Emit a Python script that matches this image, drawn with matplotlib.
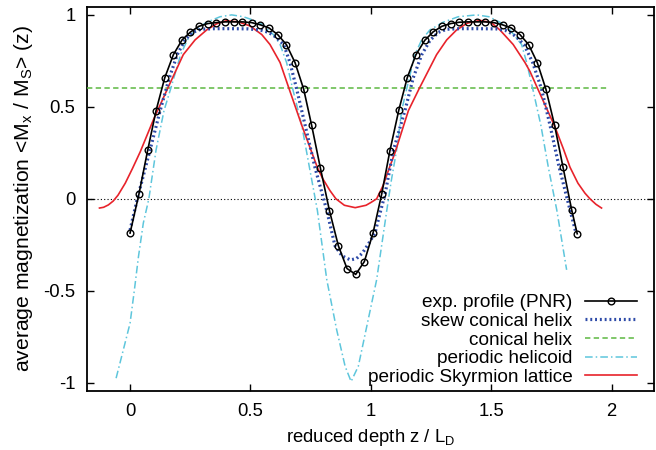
"""Depth profile of the average magnetization compared with model textures."""

import matplotlib

matplotlib.use("Agg")
import matplotlib.pyplot as plt

plt.rcParams["font.family"] = ["Liberation Sans", "DejaVu Sans"]
plt.rcParams["axes.unicode_minus"] = False

# experimental profile (PNR)
exp_z = [0.000, 0.037, 0.073, 0.108, 0.144, 0.180, 0.216, 0.250, 0.286, 0.323,
         0.358, 0.394, 0.430, 0.466, 0.505, 0.541, 0.577, 0.613, 0.649, 0.685,
         0.721, 0.754, 0.790, 0.828, 0.865, 0.901, 0.937, 0.973, 1.009, 1.045,
         1.079, 1.116, 1.151, 1.187, 1.224, 1.259, 1.295, 1.332, 1.367, 1.403,
         1.440, 1.476, 1.511, 1.547, 1.583, 1.619, 1.655, 1.691, 1.727, 1.763,
         1.798, 1.834, 1.857]
exp_m = [-0.186, 0.027, 0.263, 0.480, 0.658, 0.784, 0.864, 0.906, 0.938, 0.953,
         0.958, 0.962, 0.962, 0.962, 0.958, 0.946, 0.929, 0.893, 0.839, 0.741,
         0.596, 0.400, 0.170, -0.064, -0.255, -0.379, -0.411, -0.341, -0.186, 0.026,
         0.261, 0.482, 0.658, 0.783, 0.862, 0.908, 0.938, 0.953, 0.960, 0.962,
         0.962, 0.962, 0.958, 0.946, 0.929, 0.893, 0.839, 0.741, 0.596, 0.400,
         0.172, -0.060, -0.190]

# skew conical helix
skew_z = [0.000, 0.030, 0.083, 0.125, 0.163, 0.196, 0.228, 0.260, 0.295, 0.350,
          0.420, 0.490, 0.540, 0.575, 0.605, 0.638, 0.664, 0.692, 0.727, 0.768,
          0.817, 0.851, 0.880, 0.915, 0.940, 0.965, 0.990, 1.017, 1.038, 1.059,
          1.093, 1.142, 1.176, 1.211, 1.246, 1.280, 1.315, 1.370, 1.440, 1.520,
          1.560, 1.590, 1.612, 1.636, 1.672, 1.709, 1.744, 1.782, 1.827, 1.852]
skew_m = [-0.170, 0.000, 0.266, 0.480, 0.658, 0.784, 0.864, 0.905, 0.922, 0.925,
          0.925, 0.924, 0.918, 0.905, 0.880, 0.839, 0.741, 0.596, 0.400, 0.170,
          -0.064, -0.255, -0.310, -0.332, -0.325, -0.295, -0.245, -0.186, -0.078, 0.026,
          0.261, 0.482, 0.658, 0.783, 0.862, 0.905, 0.922, 0.925, 0.925, 0.924,
          0.915, 0.895, 0.870, 0.839, 0.741, 0.596, 0.400, 0.172, -0.060, -0.186]

# conical helix (constant)
cone_z = [-0.18, 1.985]
cone_m = [0.603, 0.603]

# periodic helicoid
heli_z = [-0.058, -0.035, 0.000, 0.018, 0.035, 0.055, 0.078, 0.108, 0.141, 0.169,
          0.210, 0.238, 0.270, 0.318, 0.374, 0.422, 0.470, 0.515, 0.553, 0.595,
          0.623, 0.650, 0.675, 0.713, 0.745, 0.778, 0.817, 0.858, 0.893, 0.918,
          0.948, 0.980, 1.024, 1.066, 1.085, 1.107, 1.128, 1.149, 1.183, 1.211,
          1.245, 1.300, 1.363, 1.440, 1.490, 1.536, 1.578, 1.626, 1.647, 1.672,
          1.706, 1.737, 1.772, 1.813]
heli_m = [-0.975, -0.857, -0.676, -0.495, -0.313, -0.132, 0.000, 0.266, 0.480, 0.600,
          0.784, 0.864, 0.918, 0.960, 0.990, 1.000, 0.990, 0.970, 0.946, 0.893,
          0.839, 0.741, 0.600, 0.400, 0.170, -0.064, -0.440, -0.712, -0.910, -0.993,
          -0.910, -0.712, -0.440, -0.064, 0.100, 0.266, 0.480, 0.600, 0.784, 0.864,
          0.918, 0.960, 0.990, 1.000, 0.990, 0.960, 0.918, 0.839, 0.741, 0.600,
          0.400, 0.172, -0.060, -0.386]

# periodic Skyrmion lattice
skyr_z = [-0.127, -0.110, -0.090, -0.070, -0.050, -0.020, 0.010, 0.042, 0.097, 0.156,
          0.221, 0.270, 0.318, 0.360, 0.400, 0.450, 0.498, 0.547, 0.581, 0.623,
          0.660, 0.713, 0.778, 0.800, 0.830, 0.855, 0.890, 0.935, 0.980, 1.000,
          1.024, 1.050, 1.080, 1.100, 1.156, 1.201, 1.273, 1.315, 1.356, 1.400,
          1.453, 1.500, 1.536, 1.591, 1.640, 1.661, 1.689, 1.727, 1.764, 1.800,
          1.827, 1.860, 1.889, 1.910, 1.935, 1.958]
skyr_m = [-0.050, -0.046, -0.033, -0.012, 0.020, 0.085, 0.165, 0.255, 0.430, 0.600,
          0.784, 0.864, 0.918, 0.952, 0.968, 0.962, 0.940, 0.893, 0.839, 0.741,
          0.600, 0.400, 0.170, 0.110, 0.045, 0.000, -0.035, -0.048, -0.035, -0.020,
          0.000, 0.070, 0.180, 0.250, 0.480, 0.600, 0.784, 0.864, 0.918, 0.955,
          0.970, 0.958, 0.918, 0.839, 0.741, 0.692, 0.610, 0.500, 0.393, 0.270,
          0.172, 0.085, 0.031, 0.000, -0.030, -0.050]

x_ticks = [0, 0.5, 1, 1.5, 2]
x_tick_labels = ["0", "0.5", "1", "1.5", "2"]
y_ticks = [-1, -0.5, 0, 0.5, 1]
y_tick_labels = ["-1", "-0.5", "0", "0.5", "1"]

FS = 13.3

fig = plt.figure(figsize=(6.56, 4.5), dpi=100)
ax = fig.add_axes([0.1322, 0.1318, 0.8648, 0.8527])

ax.axhline(0, color="black", linewidth=0.8, linestyle=(0, (1, 2)), zorder=1)

ax.plot(exp_z, exp_m, color="black", linewidth=1.2, marker="o", markersize=4.8,
        markerfacecolor="none", markeredgewidth=1.0, label="exp. profile (PNR)",
        zorder=5)
ax.plot(skew_z, skew_m, color="#2d4aa8", linewidth=2.3, linestyle=(0, (0.6, 0.9)),
        label="skew conical helix", zorder=4)
ax.plot(cone_z, cone_m, color="#5cb841", linewidth=1.1, linestyle=(0, (3.5, 2.2)),
        label="conical helix", zorder=3)
ax.plot(heli_z, heli_m, color="#5ec6dc", linewidth=1.1,
        linestyle=(0, (5, 2, 1, 2)), label="periodic helicoid", zorder=3)
ax.plot(skyr_z, skyr_m, color="#e8232b", linewidth=1.2,
        label="periodic Skyrmion lattice", zorder=3)

ax.set_xlim(-0.18, 2.176)
ax.set_ylim(-1.043, 1.043)
ax.set_xticks(x_ticks)
ax.set_xticklabels(x_tick_labels)
ax.set_yticks(y_ticks)
ax.set_yticklabels(y_tick_labels)
ax.tick_params(direction="in", length=5, width=1.0, top=True, right=True,
               labelsize=FS)
ax.tick_params(axis="x", pad=9)
ax.tick_params(axis="y", pad=8)
for spine in ax.spines.values():
    spine.set_linewidth(1.3)

ax.set_xlabel("reduced depth z / L$_\\mathregular{D}$", fontsize=FS)
ax.set_ylabel("average magnetization <M$_\\mathregular{x}$ / M$_\\mathregular{S}$> (z)",
              fontsize=15.2)
ax.xaxis.set_label_coords(0.5, -0.095)
ax.yaxis.set_label_coords(-0.092, 0.5)

ax.legend(loc="lower right", bbox_to_anchor=(0.9695, 0.012), frameon=False,
          markerfirst=False, fontsize=13.7, handlelength=2.7, handletextpad=0.68,
          labelspacing=0.07, borderpad=0, borderaxespad=0)

fig.savefig("out.png", dpi=100)
